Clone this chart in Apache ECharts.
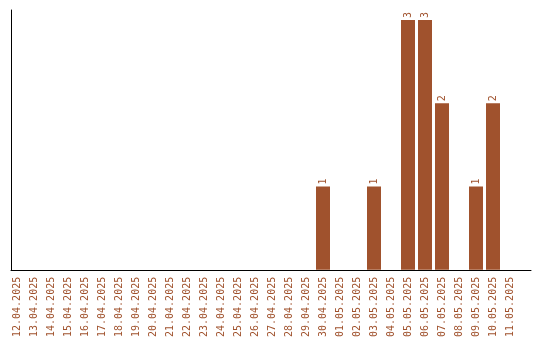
<!DOCTYPE html>
<html>
<head>
<meta charset="utf-8">
<script src="https://cdn.jsdelivr.net/npm/echarts@6/dist/echarts.min.js"></script>
<style>html,body{margin:0;padding:0;background:#fff;}#c{width:540px;height:340px;}</style>
</head>
<body>
<div id="c"></div>
<script>
const categories = ["12.04.2025","13.04.2025","14.04.2025","15.04.2025","16.04.2025","17.04.2025","18.04.2025","19.04.2025","20.04.2025","21.04.2025","22.04.2025","23.04.2025","24.04.2025","25.04.2025","26.04.2025","27.04.2025","28.04.2025","29.04.2025","30.04.2025","01.05.2025","02.05.2025","03.05.2025","04.05.2025","05.05.2025","06.05.2025","07.05.2025","08.05.2025","09.05.2025","10.05.2025","11.05.2025"];
const values = [0,0,0,0,0,0,0,0,0,0,0,0,0,0,0,0,0,0,1,0,0,1,0,3,3,2,0,1,2,0];

const color = '#A0522D';
const font = 'DejaVu Sans Mono';
const chart = echarts.init(document.getElementById('c'), null, {renderer: 'canvas'});
chart.setOption({
  animation: false,
  backgroundColor: '#ffffff',
  grid: [
    {left: 8.5, width: 510, top: 20, bottom: 70},
    {left: 11, right: 9, top: 10, bottom: 70}
  ],
  xAxis: [
    {type: 'category', gridIndex: 0, data: categories,
     axisLine: {show: false}, axisTick: {show: false},
     axisLabel: {interval: 0, rotate: 90, margin: 7, color: color, fontFamily: font, fontSize: 10}},
    {type: 'value', gridIndex: 1, min: 0, max: 1,
     axisLine: {show: true, lineStyle: {color: '#000', width: 1}},
     axisTick: {show: false}, axisLabel: {show: false}, splitLine: {show: false}}
  ],
  yAxis: [
    {type: 'value', gridIndex: 0, min: 0, max: 3, show: false},
    {type: 'value', gridIndex: 1, min: 0, max: 1,
     axisLine: {show: true, lineStyle: {color: '#000', width: 1}},
     axisTick: {show: false}, axisLabel: {show: false}, splitLine: {show: false}}
  ],
  series: [{
    type: 'bar', xAxisIndex: 0, yAxisIndex: 0,
    data: values.map(v => v === 0 ? null : v),
    barWidth: 14,
    itemStyle: {color: color},
    label: {show: true, position: 'top', rotate: 90, align: 'left', verticalAlign: 'middle',
            distance: 2, color: color, fontFamily: font, fontSize: 10}
  }]
});
</script>
</body>
</html>
